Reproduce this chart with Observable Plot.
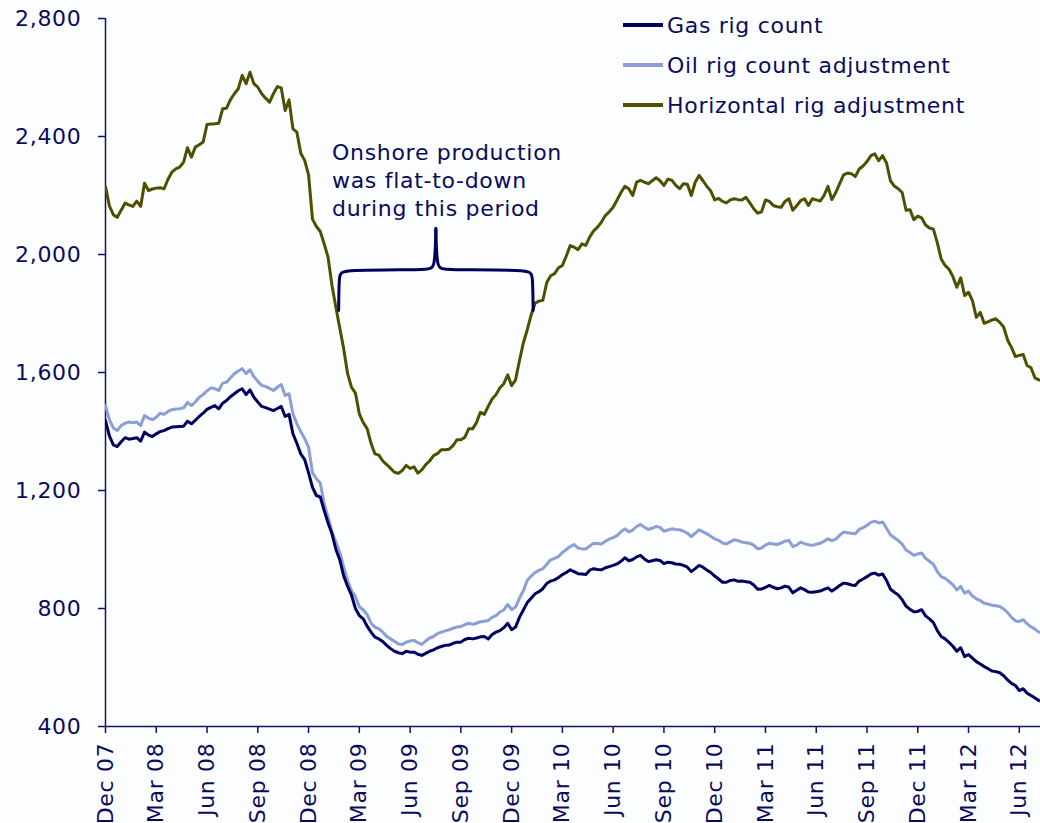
<!DOCTYPE html>
<html><head><meta charset="utf-8">
<script src="https://cdn.jsdelivr.net/npm/d3@7"></script>
<script src="https://cdn.jsdelivr.net/npm/@observablehq/plot@0.6"></script>
<style>
body{margin:0;background:#fcfdff;}
#wrap{position:relative;width:1040px;height:823px;overflow:hidden;font-family:"DejaVu Sans",Verdana,sans-serif;background:#fcfdff;}
#wrap svg text{letter-spacing:0.7px;}
.legend{position:absolute;left:623px;top:5px;color:#0b0b5e;font-size:22px;letter-spacing:0.7px;}
.legend .row{display:flex;align-items:center;height:40px;white-space:nowrap;}
.legend .sw{width:40px;height:3.5px;margin-right:4px;}
</style></head><body><div id="wrap"></div><script>
// ---- data (weekly, starting first week of Dec 2007) ----
const seriesNames = ["Gas rig count", "Oil rig count adjustment", "Horizontal rig adjustment"];
const seriesColors = ["#00005f", "#8b9fd6", "#4f4f00"];
const gasValues = [
1437,1385,1355,1349,1365,1379,1374,1376,1379,1367,
1398,1388,1383,1392,1400,1403,1410,1415,1416,1417,
1418,1435,1426,1438,1451,1462,1475,1482,1488,1477,
1496,1505,1518,1528,1538,1545,1525,1541,1516,1500,
1485,1481,1476,1471,1478,1485,1451,1458,1392,1360,
1324,1305,1260,1211,1183,1178,1132,1090,1053,1000,
965,910,875,845,800,776,765,740,720,703,
697,688,675,664,655,650,647,655,652,652,
645,641,648,655,660,667,671,675,676,682,
686,686,695,699,697,700,704,705,697,712,
720,725,735,750,728,737,770,795,820,835,
850,857,867,885,893,897,905,915,922,931,
925,918,917,915,930,935,932,931,938,942,
946,951,960,972,962,966,975,980,968,959,
962,965,963,952,957,955,951,950,946,940,
925,935,946,940,930,922,910,900,889,889,
895,897,892,893,891,889,880,865,866,872,
878,872,867,870,876,872,853,862,870,864,
856,855,857,859,865,870,859,868,878,886,
884,880,878,893,900,908,917,920,913,917,
895,866,855,846,830,808,797,789,790,796,
775,765,752,725,705,697,685,672,655,667,
637,644,632,620,612,603,596,588,586,582,
572,558,546,539,522,528,513,505,497,488,
485];
const oilValues = [
1488,1440,1412,1403,1420,1428,1432,1430,1432,1420,
1454,1445,1440,1448,1462,1458,1468,1474,1476,1477,
1480,1499,1488,1500,1516,1525,1538,1548,1545,1539,
1564,1567,1582,1596,1605,1613,1596,1609,1586,1570,
1556,1553,1546,1539,1550,1559,1522,1528,1460,1426,
1400,1376,1347,1260,1240,1225,1155,1110,1060,1025,
990,940,895,860,840,806,795,780,750,737,
731,720,705,697,689,680,678,686,690,692,
684,678,690,700,705,715,720,724,728,733,
737,739,745,750,746,750,755,757,759,770,
776,788,795,814,796,805,835,860,895,910,
922,929,935,950,965,970,976,990,1000,1010,
1017,1005,1002,1002,1012,1021,1020,1019,1028,1035,
1040,1047,1060,1070,1060,1066,1078,1085,1075,1068,
1072,1078,1075,1062,1066,1070,1068,1067,1062,1055,
1044,1055,1067,1060,1053,1045,1036,1031,1022,1019,
1026,1033,1030,1025,1023,1021,1015,1002,1005,1015,
1021,1019,1017,1022,1028,1031,1010,1015,1025,1020,
1016,1014,1018,1021,1028,1036,1030,1035,1048,1059,
1057,1055,1053,1068,1074,1082,1092,1096,1090,1093,
1072,1050,1040,1030,1018,998,990,980,985,988,
970,960,950,925,908,902,892,880,863,875,
852,859,842,833,827,818,815,811,809,807,
798,786,770,758,756,762,748,738,730,720,
718];
const horizontalValues = [
2230,2165,2135,2126,2150,2174,2168,2163,2181,2163,
2242,2217,2222,2225,2226,2223,2255,2279,2290,2296,
2313,2362,2330,2364,2372,2381,2441,2442,2443,2445,
2494,2496,2525,2545,2562,2607,2579,2618,2579,2567,
2545,2530,2516,2545,2569,2565,2488,2524,2426,2415,
2343,2319,2270,2120,2095,2078,2036,1990,1895,1820,
1750,1680,1596,1550,1530,1460,1430,1410,1360,1324,
1320,1300,1288,1275,1262,1258,1268,1285,1275,1280,
1259,1270,1288,1300,1318,1325,1338,1338,1340,1352,
1372,1372,1380,1409,1409,1430,1465,1458,1485,1510,
1525,1548,1562,1592,1555,1575,1640,1700,1745,1795,
1835,1842,1845,1905,1928,1935,1955,1963,1995,2030,
2025,2016,2036,2031,2060,2080,2093,2110,2132,2145,
2160,2185,2210,2231,2223,2200,2245,2251,2245,2240,
2250,2260,2250,2234,2255,2252,2235,2223,2240,2238,
2200,2245,2268,2250,2231,2215,2185,2190,2180,2175,
2185,2189,2186,2185,2194,2175,2155,2140,2145,2185,
2180,2166,2162,2160,2180,2189,2150,2165,2183,2189,
2166,2189,2185,2181,2200,2231,2186,2210,2240,2270,
2276,2274,2264,2290,2300,2315,2335,2341,2318,2335,
2310,2250,2232,2223,2210,2150,2152,2118,2130,2124,
2100,2090,2086,2040,1985,1963,1950,1925,1889,1921,
1861,1872,1844,1787,1804,1767,1772,1778,1782,1770,
1754,1710,1685,1654,1658,1661,1624,1616,1582,1575,
1572];
const xTickLabels = ["Dec 07","Mar 08","Jun 08","Sep 08","Dec 08","Mar 09","Jun 09","Sep 09","Dec 09",
  "Mar 10","Jun 10","Sep 10","Dec 10","Mar 11","Jun 11","Sep 11","Dec 11","Mar 12","Jun 12"];
const yTicks = [400, 800, 1200, 1600, 2000, 2400, 2800];
const annotationText = "Onshore production\nwas flat-to-down\nduring this period";
const annotationWeek = 58, annotationValue = 2386;
// brace drawn in data space (week, value)
const braceWeeks  = [59.7, 59.8, 60.5, 82.8, 84.35, 84.6,   84.6, 84.85, 86.4, 108.7, 109.4, 109.5];
const braceValues = [1810, 1935, 1948, 1948, 1952, 2088,   2088, 1952, 1948, 1948, 1935, 1810];
const braceParts  = ["L","L","L","L","L","L","R","R","R","R","R","R"];

// ---- build ----
const start = new Date(Date.UTC(2007, 11, 7));
const weekDate = w => new Date(+start + w * 7 * 864e5);
const allValues = [gasValues, oilValues, horizontalValues];
const rows = [];
allValues.forEach((vals, k) => vals.forEach((v, i) => rows.push({date: weekDate(i), value: v, series: seriesNames[k]})));
const tickDates = xTickLabels.map((l, i) => weekDate(13 * i));
const labelByTime = new Map(tickDates.map((d, i) => [+d, xTickLabels[i]]));
const brace = braceWeeks.map((w, i) => ({date: weekDate(w), value: braceValues[i], part: braceParts[i]}));
const navy = "#0b0b5e";
const axisColor = "#10106a";

const chart = Plot.plot({
  width: 1040, height: 823,
  marginLeft: 105, marginRight: 0, marginTop: 18, marginBottom: 97,
  style: {background: "#fcfdff", color: navy, fontFamily: '"DejaVu Sans", Verdana, sans-serif', fontSize: "22px"},
  x: {type: "utc", domain: [start, new Date(+start + 1676 * 864e5)], label: null},
  y: {domain: [400, 2800], label: null},
  marks: [
    Plot.axisY({ticks: yTicks, tickFormat: d3.format(","), tickSize: 7, tickPadding: 17, fontSize: 22, stroke: axisColor, strokeWidth: 1.5, label: null}),
    Plot.axisX({ticks: tickDates, tickFormat: d => labelByTime.get(+d), tickRotate: -90, tickSize: 7, tickPadding: 9, fontSize: 22, stroke: axisColor, strokeWidth: 1.5, label: null}),
    Plot.ruleX([start], {stroke: axisColor, strokeWidth: 1.5}),
    Plot.ruleY([400], {stroke: axisColor, strokeWidth: 1.5}),
    Plot.line(rows.filter(d => d.series === seriesNames[2]), {x: "date", y: "value", stroke: seriesColors[2], strokeWidth: 3, clip: true}),
    Plot.line(rows.filter(d => d.series === seriesNames[1]), {x: "date", y: "value", stroke: seriesColors[1], strokeWidth: 3, clip: true}),
    Plot.line(rows.filter(d => d.series === seriesNames[0]), {x: "date", y: "value", stroke: seriesColors[0], strokeWidth: 3, clip: true}),
    Plot.line(brace, {x: "date", y: "value", z: "part", curve: "basis", stroke: "#00005f", strokeWidth: 3}),
    Plot.text([annotationText], {x: weekDate(annotationWeek), y: annotationValue, text: d => d, textAnchor: "start", lineAnchor: "top", lineHeight: 1.27, fontSize: 22, fill: navy})
  ]
});
const wrap = document.getElementById("wrap");
wrap.appendChild(chart);
const legend = document.createElement("div");
legend.className = "legend";
seriesNames.forEach((n, k) => {
  const row = document.createElement("div"); row.className = "row";
  const sw = document.createElement("span"); sw.className = "sw"; sw.style.background = seriesColors[k];
  const t = document.createElement("span"); t.textContent = n;
  row.appendChild(sw); row.appendChild(t); legend.appendChild(row);
});
wrap.appendChild(legend);
</script></body></html>
